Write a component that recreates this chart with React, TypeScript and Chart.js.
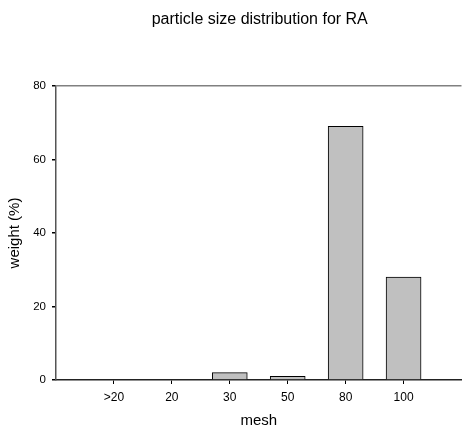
import React, { useEffect, useRef } from "react";
import { Chart, registerables } from "chart.js";

Chart.register(...registerables);

const titleText = "particle size distribution for RA";
const categories = ["", ">20", "20", "30", "50", "80", "100", ""];
const weights = [null, 0, 0, 2, 1, 69, 28, null];
const yTicks = [0, 20, 40, 60, 80];

const FONT = "Arial, 'Liberation Sans', sans-serif";

export default function App() {
  const ref = useRef<HTMLCanvasElement | null>(null);

  useEffect(() => {
    if (!ref.current) return;
    const titlePlugin = {
      id: "centerTitle",
      afterDraw(chart: any) {
        const { ctx, chartArea } = chart;
        ctx.save();
        ctx.font = `16px ${FONT}`;
        ctx.fillStyle = "#000";
        ctx.textAlign = "center";
        ctx.textBaseline = "middle";
        ctx.fillText(titleText, (chartArea.left + chartArea.right) / 2 + 1, 20);
        ctx.restore();
      },
    };
    const chart = new Chart(ref.current, {
      type: "bar",
      data: {
        labels: categories,
        datasets: [
          {
            label: "weight",
            data: weights as any,
            backgroundColor: "#c0c0c0",
            borderColor: "#000",
            borderWidth: 1,
            barThickness: 35,
          },
        ],
      },
      options: {
        responsive: false,
        animation: false,
        layout: { padding: { top: 86, right: 0.5, left: 0, bottom: 0 } },
        plugins: {
          legend: { display: false },
          tooltip: { enabled: false },
          title: { display: false },
        },
        scales: {
          x: {
            offset: false,
            grid: {
              display: true,
              offset: false,
              drawOnChartArea: false,
              tickLength: 4,
              tickColor: (c: any) =>
                c.index === 0 || c.index === categories.length - 1 ? "rgba(0,0,0,0)" : "#000",
            },
            border: { color: "#222", width: 1.5 },
            ticks: {
              color: "#000",
              font: { family: FONT, size: 12 },
              padding: 6,
              maxRotation: 0,
              autoSkip: false,
            },
            title: {
              display: true,
              text: "mesh",
              color: "#000",
              font: { family: FONT, size: 15 },
              padding: { top: 0, bottom: 0 },
            },
            afterFit: (s: any) => {
              s.height = 50;
              s.paddingLeft = 0;
              s.paddingRight = 0;
            },
          },
          y: {
            min: 0,
            max: 80,
            afterBuildTicks: (s: any) => {
              s.ticks = yTicks.map((v) => ({ value: v }));
            },
            grid: {
              display: true,
              tickLength: 4,
              tickColor: "#000",
              color: (c: any) => (c.tick && c.tick.value === 80 ? "#808080" : "rgba(0,0,0,0)"),
              lineWidth: 1.5,
            },
            border: { color: "#555", width: 1.5 },
            ticks: {
              color: "#000",
              font: { family: FONT, size: 11.5 },
              padding: 6,
            },
            title: {
              display: true,
              text: "weight (%)",
              color: "#000",
              font: { family: FONT, size: 15 },
              padding: { top: 6, bottom: 0 },
            },
            afterFit: (s: any) => {
              s.width = 56;
            },
          },
        },
      },
      plugins: [titlePlugin],
    });
    return () => chart.destroy();
  }, []);

  return (
    <div style={{ position: "absolute", left: 0, top: 0, width: 462, height: 430 }}>
      <canvas ref={ref} width={462} height={430} />
    </div>
  );
}
